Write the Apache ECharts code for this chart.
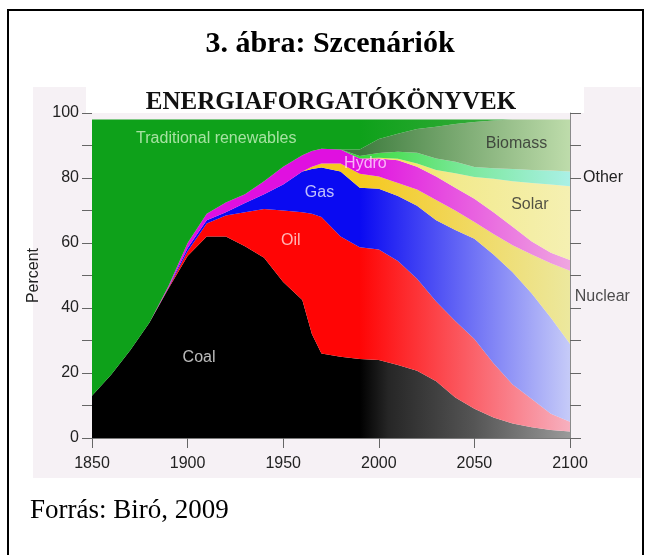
<!DOCTYPE html>
<html>
<head>
<meta charset="utf-8">
<title>3. ábra: Szcenáriók</title>
<script src="https://cdn.jsdelivr.net/npm/echarts@6.0.0/dist/echarts.min.js"></script>
<style>
html, body { margin: 0; padding: 0; background: #fff; }
#main { width: 651px; height: 555px; }
</style>
</head>
<body>
<div id="main"></div>
<script>
// évek és részarányok (%), alulról felfelé halmozva
var years = [1850,1860,1870,1880,1890,1900,1910,1920,1930,1940,1950,1960,1965,1970,1980,1990,2000,2010,2020,2030,2040,2050,2060,2070,2080,2090,2100];
var coal = [13,19.5,27,35.5,46,56,62,62,59,55.5,48,42.5,32,26,25,24.3,24,22.5,20.7,17.5,12.5,9,6.3,4.5,3.3,2.5,2];
var oil = [0,0,0,0,0.2,1.5,4,6.5,10.5,15,22,27,37,42,37,34.4,34,32,28.3,24.5,23.5,21.5,16.7,12,8.7,5,3];
var gas = [0,0,0,0,0.2,1,1,1,2.8,4.5,8,12.5,13.8,15.2,20,18.3,18.7,20,22.5,25,28,30.8,33.5,34.5,32.5,29.5,24];
var nuclear = [0,0,0,0,0,0,0,0,0,0,0,0,0.7,1.3,2.5,4.3,3.8,4,5,6.2,6,5.2,6.3,8.3,12,16.8,22.5];
var hydro = [0,0,0,0,0.4,1.5,2,3,2.7,4,5.5,5,4.8,4.5,4.3,4.7,5.5,7,7,7.3,7,7.1,6.7,5.7,4,3.2,3.3];
var solar = [0,0,0,0,0,0,0,0,0,0,0,0,0,0,0,0,0.2,0.4,1,2,4.5,6.7,10.3,14,18,21,22.7];
var other = [0,0,0,0,0,0,0,0,0,0,0,0,0,0,0,0.8,1.5,2.2,3.3,3.5,3.5,3.1,3.2,3.8,4,4.3,4.5];
var biomass = [0,0,0,0,0,0,0,0,0,0,0,0,0,0,0,2,4.3,5.5,7.3,9.8,11.6,13.8,14.7,15.2,15.5,15.7,16];
var traditional = [85,78.5,71,62.5,51.2,38,29,25.5,23,19,14.5,11,9.7,9,9.2,9.2,6,4.4,2.9,2.2,1.4,0.8,0.3,0,0,0,0];

var seriesNames = ['Coal','Oil','Gas','Nuclear','Hydro','Solar','Other','Biomass','Traditional renewables'];
var layers = [coal, oil, gas, nuclear, hydro, solar, other, biomass, traditional];

// tengely feliratok
var xTicks = [1850,1900,1950,2000,2050,2100];
var yTicks = [0,20,40,60,80,100];

// feliratok a rajzon (év, érték)
var noteNames = ['Traditional renewables','Coal','Oil','Gas','Hydro','Biomass','Solar','Nuclear'];
var noteYears = [1915,1906,1954,1969,1993,2072,2079,2102.5];
var noteValues = [92,24.6,60.6,75.6,84.3,90.6,71.8,43.5];

// színek: múltban telt, 1990 után kifakul
var baseColors = ['#000000','#ff0505','#0a0af2','#f5c81e','#e010e0','#f4e43c','#3ada3a','#3f7d3f','#0ea11a'];
var paleColors = ['#9a9a9a','#f7b0bf','#c6cbf8','#ece89e','#efa6e0','#f5f0b2','#aaf0e6','#bedcab','#4cb24c'];

function fade(i) {
	var stops = [
		{offset: 0, color: baseColors[i]},
		{offset: 0.56, color: baseColors[i]},
		{offset: 1, color: paleColors[i]}
	];
	if (i === 0) {
		stops.splice(2, 0, {offset: 0.62, color: '#262626'}, {offset: 0.8, color: '#555555'});
	}
	if (i === 5) {
		stops.splice(2, 0, {offset: 0.76, color: '#f2ea8e'});
	}
	if (i === 6) {
		stops.splice(2, 0, {offset: 0.78, color: '#7ae89a'});
	}
	return new echarts.graphic.LinearGradient(0, 0, 1, 0, stops);
}

var noteColors = ['#cdf2c4','#e8e8e8','#ffe2e2','#ececff','#ffdcff','#2a2a2a','#2a2a2a','#222222'];

// [érték, év] sorrend: így az ECharts az y dimenziót halmozza, nem az éveket
var series = [];
for (var i = 0; i < layers.length; i++) {
	var pts = [];
	for (var j = 0; j < years.length; j++) {
		pts.push([layers[i][j], years[j]]);
	}
	series.push({
		name: seriesNames[i],
		type: 'line',
		stack: 'energia',
		encode: { x: 1, y: 0 },
		symbol: 'none',
		silent: true,
		lineStyle: { width: 0 },
		areaStyle: { color: fade(i), opacity: 1 },
		data: pts
	});
}

var notes = [];
for (var k = 0; k < noteNames.length; k++) {
	notes.push({
		value: [noteYears[k], noteValues[k]],
		name: noteNames[k],
		label: {
			color: noteColors[k],
			align: noteNames[k] === 'Nuclear' ? 'left' : 'center'
		}
	});
}
series.push({
	type: 'scatter',
	symbolSize: 0,
	clip: false,
	silent: true,
	z: 10,
	label: {
		show: true,
		position: 'inside',
		formatter: '{b}',
		fontFamily: 'Liberation Sans',
		fontSize: 16
	},
	data: notes
});

var chart = echarts.init(document.getElementById('main'));
chart.setOption({
	animation: false,
	backgroundColor: '#ffffff',
	grid: {
		left: 92, right: 81, top: 113, bottom: 117,
		containLabel: false,
		outerBoundsMode: 'none'
	},
	xAxis: {
		type: 'value',
		min: xTicks[0],
		max: xTicks[xTicks.length - 1],
		interval: xTicks[1] - xTicks[0],
		axisLine: { show: true, lineStyle: { color: '#7a7a7a', width: 1 } },
		axisTick: { show: true, length: 10, lineStyle: { color: '#666' } },
		axisLabel: { color: '#222', fontSize: 16, fontFamily: 'Liberation Sans', margin: 18,
			formatter: function (v) { return String(v); } },
		splitLine: { show: false }
	},
	yAxis: [{
		type: 'value',
		min: yTicks[0],
		max: yTicks[yTicks.length - 1],
		interval: 10,
		name: 'Percent',
		nameLocation: 'middle',
		nameGap: 43,
		nameRotate: 90,
		nameTextStyle: { color: '#222', fontSize: 16, fontFamily: 'Liberation Sans' },
		axisLine: { show: false },
		axisTick: { show: true, length: 10, lineStyle: { color: '#666' } },
		axisLabel: {
			color: '#222', fontSize: 16, fontFamily: 'Liberation Sans', margin: 13,
			formatter: function (v) { return yTicks.indexOf(v) >= 0 ? String(v) : ''; }
		},
		splitLine: { show: false }
	}, {
		type: 'value',
		position: 'right',
		min: yTicks[0],
		max: yTicks[yTicks.length - 1],
		interval: 10,
		axisLine: { show: true, lineStyle: { color: '#8a8a8a', width: 1 } },
		axisTick: { show: true, length: 11, lineStyle: { color: '#666' } },
		axisLabel: {
			color: '#222', fontSize: 16, fontFamily: 'Liberation Sans', margin: 13,
			formatter: function (v) { return v === 80 ? seriesNames[6] : ''; }
		},
		splitLine: { show: false }
	}],
	graphic: [
		{ type: 'rect', z: -10, shape: { x: 33, y: 87, width: 608, height: 391 }, style: { fill: '#f6f1f5' } },
		{ type: 'rect', z: -9, shape: { x: 86, y: 87, width: 498, height: 26 }, style: { fill: '#ffffff' } },
		{ type: 'rect', z: 20, shape: { x: 8, y: 10, width: 635, height: 560 }, style: { fill: null, stroke: '#000', lineWidth: 2 } },
		{ type: 'text', x: 330, y: 44, style: { text: '3. ábra: Szcenáriók', font: 'bold 30px "Liberation Serif"', fill: '#000', align: 'center', verticalAlign: 'middle' } },
		{ type: 'text', x: 331, y: 103, style: { text: 'ENERGIAFORGATÓKÖNYVEK', font: 'bold 25px "Liberation Serif"', fill: '#111', align: 'center', verticalAlign: 'middle' } },
		{ type: 'text', x: 30, y: 511, style: { text: 'Forrás: Biró, 2009', font: '27px "Liberation Serif"', fill: '#000', align: 'left', verticalAlign: 'middle' } }
	],
	series: series
});
</script>
</body>
</html>
